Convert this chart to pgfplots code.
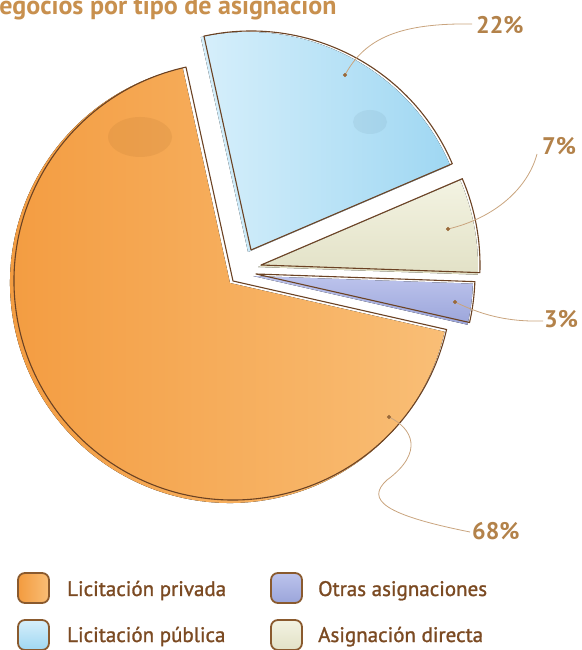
\documentclass[border=0pt]{standalone}
\usepackage{pgfplots}
\pgfplotsset{compat=1.18}
\usepackage{pgfplotstable}
\usepackage{fontspec}
\setmainfont{PT Sans}
\newfontfamily\legfont{PT Sans}[FakeBold=1.2]
\definecolor{titlec}{HTML}{C8904E}
\definecolor{pctc}{HTML}{B3824A}
\definecolor{legc}{HTML}{7B4A22}
\definecolor{outl}{HTML}{6B4223}
\definecolor{callc}{HTML}{C9A47E}
\definecolor{dotc}{HTML}{9A6A3A}
\definecolor{orA}{HTML}{F39B3F}
\definecolor{orB}{HTML}{F9BE76}
\definecolor{blA}{HTML}{D6EFFB}
\definecolor{blB}{HTML}{9FD7F2}
\definecolor{crA}{HTML}{F3F3E2}
\definecolor{crB}{HTML}{E2E1C6}
\definecolor{puA}{HTML}{BCC3EC}
\definecolor{puB}{HTML}{9BA5DA}
\definecolor{swb}{HTML}{8A5A2E}

% slice table: percentage, apex x, apex y (explode)
\pgfplotstableread{
pct cx  cy
68  230 367
3   253 374
7   258 383
22  248 398
}\slices

\newcommand\slice[5]{%
  \fill[#5] (axis cs:#1,#2) -- ++(#3:220pt) arc[start angle=#3, end angle=#4, radius=220pt] -- cycle;
  \draw[outl, line width=1.1pt, line join=round] (axis cs:#1+3,#2+2) -- ++(#3:219pt) arc[start angle=#3, end angle=#4, radius=219pt] -- cycle;
}

\begin{document}
\begin{tikzpicture}
\useasboundingbox (0,0) rectangle (581pt,650pt);
\clip (0,0) rectangle (581pt,650pt);
\pgfplotstablegetelem{0}{pct}\of\slices \let\pA\pgfplotsretval
\pgfplotstablegetelem{1}{pct}\of\slices \let\pB\pgfplotsretval
\pgfplotstablegetelem{2}{pct}\of\slices \let\pC\pgfplotsretval
\pgfplotstablegetelem{3}{pct}\of\slices \let\pD\pgfplotsretval
\pgfplotstablegetelem{0}{cx}\of\slices \let\xA\pgfplotsretval
\pgfplotstablegetelem{1}{cx}\of\slices \let\xB\pgfplotsretval
\pgfplotstablegetelem{2}{cx}\of\slices \let\xC\pgfplotsretval
\pgfplotstablegetelem{3}{cx}\of\slices \let\xD\pgfplotsretval
\pgfplotstablegetelem{0}{cy}\of\slices \let\yA\pgfplotsretval
\pgfplotstablegetelem{1}{cy}\of\slices \let\yB\pgfplotsretval
\pgfplotstablegetelem{2}{cy}\of\slices \let\yC\pgfplotsretval
\pgfplotstablegetelem{3}{cy}\of\slices \let\yD\pgfplotsretval
\pgfmathsetmacro\aA{102.4}
\pgfmathsetmacro\aB{\aA+3.6*\pA}
\pgfmathsetmacro\aC{\aB+3.6*\pB}
\pgfmathsetmacro\aD{\aC+3.6*\pC}
\pgfmathsetmacro\aE{\aD+3.6*\pD}
\begin{axis}[x=1pt, y=1pt, xmin=0, xmax=581, ymin=0, ymax=650,
  hide axis, clip=false, anchor=origin, at={(0pt,0pt)}]
% slices
\slice{\xA}{\yA}{\aA}{\aB}{left color=orA, right color=orB}
\slice{\xB}{\yB}{\aB}{\aC}{top color=puA, bottom color=puB}
\slice{\xC}{\yC}{\aC}{\aD}{top color=crA, bottom color=crB}
\slice{\xD}{\yD}{\aD}{\aE}{left color=blA, right color=blB}
% soft blobs
\fill[orA!75!black, opacity=0.16] (axis cs:140,513) ellipse[x radius=32pt, y radius=20pt];
\fill[blB!70!black, opacity=0.13] (axis cs:370,528) ellipse[x radius=17pt, y radius=12pt];
% callout lines
\draw[callc, line width=0.8pt] (axis cs:345,575) .. controls (axis cs:365,612) and (axis cs:400,627) .. (axis cs:472,626);
\draw[callc, line width=0.8pt] (axis cs:448,421) .. controls (axis cs:495,432) and (axis cs:528,462) .. (axis cs:537,496);
\draw[callc, line width=0.8pt] (axis cs:455,348) .. controls (axis cs:480,336) and (axis cs:505,328) .. (axis cs:543,329);
\draw[callc, line width=0.8pt] (axis cs:389,233) .. controls (axis cs:412,222) and (axis cs:425,198) .. (axis cs:387,170)
   .. controls (axis cs:365,150) and (axis cs:385,135) .. (axis cs:470,118);
\addplot[only marks, mark=*, mark size=1.8pt, color=dotc] coordinates {(345,575) (448,421) (455,348) (389,233)};
% percentage labels
\node[anchor=west, text=pctc, font=\fontsize{24}{27}\selectfont\bfseries, inner sep=0pt] at (axis cs:476,625) {22\%};
\node[anchor=west, text=pctc, font=\fontsize{24}{27}\selectfont\bfseries, inner sep=0pt] at (axis cs:542,504) {7\%};
\node[anchor=west, text=pctc, font=\fontsize{24}{27}\selectfont\bfseries, inner sep=0pt] at (axis cs:544,331) {3\%};
\node[anchor=west, text=pctc, font=\fontsize{24}{27}\selectfont\bfseries, inner sep=0pt] at (axis cs:472,119) {68\%};
% title
\node[anchor=base west, text=titlec, font=\fontsize{26}{29}\selectfont\bfseries, inner sep=0pt] at (axis cs:-18,635) {Negocios por tipo de asignación};
% legend
\draw[swb, line width=1.8pt, rounded corners=7pt, left color=orA, right color=orB] (axis cs:18,47) rectangle (axis cs:49,77);
\draw[swb, line width=1.8pt, rounded corners=7pt, top color=blA, bottom color=blB] (axis cs:18,0) rectangle (axis cs:49,30);
\draw[swb, line width=1.8pt, rounded corners=7pt, top color=puA, bottom color=puB] (axis cs:271,47) rectangle (axis cs:302,77);
\draw[swb, line width=1.8pt, rounded corners=7pt, top color=crA, bottom color=crB] (axis cs:271,0) rectangle (axis cs:302,30);
\node[anchor=base west, text=legc, font=\legfont\fontsize{21}{24}\selectfont, inner sep=0pt] at (axis cs:67,54) {Licitación privada};
\node[anchor=base west, text=legc, font=\legfont\fontsize{21}{24}\selectfont, inner sep=0pt] at (axis cs:67,8) {Licitación pública};
\node[anchor=base west, text=legc, font=\legfont\fontsize{21}{24}\selectfont, inner sep=0pt] at (axis cs:318,54) {Otras asignaciones};
\node[anchor=base west, text=legc, font=\legfont\fontsize{21}{24}\selectfont, inner sep=0pt] at (axis cs:318,8) {Asignación directa};
\end{axis}
\end{tikzpicture}
\end{document}
